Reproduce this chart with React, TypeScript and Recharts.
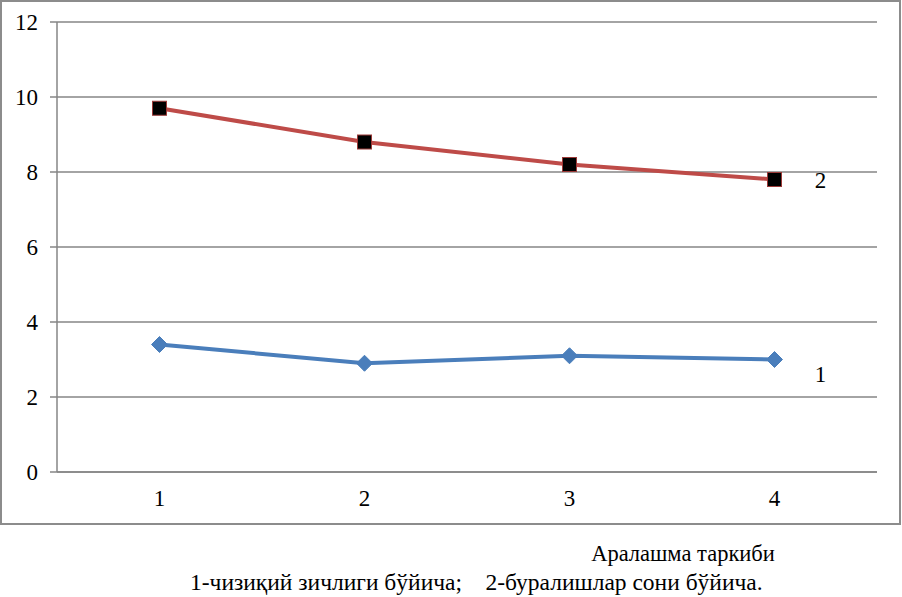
import { CartesianGrid, Line, LineChart, XAxis, YAxis } from 'recharts';

const categories = [1, 2, 3, 4];
const series1 = [3.4, 2.9, 3.1, 3.0];
const series2 = [9.7, 8.8, 8.2, 7.8];
const yTicks = [0, 2, 4, 6, 8, 10, 12];

const data = categories.map((c, i) => ({ cat: c, s1: series1[i], s2: series2[i] }));

const FONT = 'Liberation Serif';
const TICK_SIZE = 23;

const SquareDot = (props: any) => {
	const { cx, cy, index } = props;
	return (
		<rect
			key={`sq-${index}`}
			x={cx - 7}
			y={cy - 7}
			width={14}
			height={14}
			fill='#000'
			stroke='#9b3a38'
			strokeWidth={1}
		/>
	);
};

const DiamondDot = (props: any) => {
	const { cx, cy, index } = props;
	return (
		<path
			key={`dm-${index}`}
			d={`M${cx},${cy - 8} L${cx + 8},${cy} L${cx},${cy + 8} L${cx - 8},${cy} Z`}
			fill='#4a7ebb'
			stroke='#4a7ebb'
		/>
	);
};

const XTick = (props: any) => {
	const { x, y, payload } = props;
	return (
		<text x={x} y={y} dy='0.71em' textAnchor='middle' fill='#000' style={{ fontSize: TICK_SIZE, fontFamily: FONT }}>
			{payload.value}
		</text>
	);
};

const YTick = (props: any) => {
	const { x, y, payload } = props;
	return (
		<text x={x} y={y} dy='0.34em' textAnchor='end' fill='#000' style={{ fontSize: TICK_SIZE, fontFamily: FONT }}>
			{payload.value}
		</text>
	);
};

// series number written next to the last point
const endLabel = (text: string, dy: number) => (props: any) => {
	const { x, y, index } = props;
	if (index !== categories.length - 1) return <g key={`l-${index}`} />;
	return (
		<text
			key={`l-${index}`}
			x={x + 46}
			y={y + dy}
			style={{ fontSize: TICK_SIZE, fontFamily: FONT }}
			fill='#000'
			textAnchor='middle'
			dominantBaseline='central'>
			{text}
		</text>
	);
};

const App = () => {
	return (
		<div style={{ position: 'absolute', left: 0, top: 0, width: 902, height: 597, background: '#fff', fontFamily: FONT }}>
			<div
				style={{
					position: 'absolute',
					left: 0,
					top: 0,
					width: 901,
					height: 525,
					border: '2px solid #8c8c8c',
					boxSizing: 'border-box',
				}}
			/>
			<div style={{ position: 'absolute', left: 0, top: 0 }}>
				<LineChart
					width={900}
					height={524}
					data={data}
					margin={{ top: 22, right: 23, bottom: 12, left: 0 }}>
					<CartesianGrid
						horizontal
						vertical={false}
						stroke='#868686'
						strokeWidth={1.5}
					/>
					<XAxis
						dataKey='cat'
						type='number'
						domain={[0.5, 4.5]}
						ticks={categories}
						height={40}
						tickLine={false}
						tickSize={0}
						tickMargin={18}
						axisLine={{ stroke: '#868686', strokeWidth: 1.5 }}
						tick={XTick}
					/>
					<YAxis
						type='number'
						domain={[0, 12]}
						ticks={yTicks}
						width={57}
						tickSize={7}
						tickMargin={12}
						tickLine={{ stroke: '#868686', strokeWidth: 1.5 }}
						axisLine={{ stroke: '#868686', strokeWidth: 1.5 }}
						tick={YTick}
					/>
					<Line
						dataKey='s1'
						stroke='#4a7ebb'
						strokeWidth={4}
						dot={DiamondDot}
						activeDot={false}
						label={endLabel('1', 15)}
						isAnimationActive={false}
					/>
					<Line
						dataKey='s2'
						stroke='#be4b48'
						strokeWidth={4}
						dot={SquareDot}
						activeDot={false}
						label={endLabel('2', 1)}
						isAnimationActive={false}
					/>
				</LineChart>
			</div>
			<div
				style={{
					position: 'absolute',
					left: 683,
					top: 554,
					transform: 'translate(-50%, -50%)',
					fontFamily: FONT,
					fontSize: 22.5,
					whiteSpace: 'pre',
				}}>
				Аралашма таркиби
			</div>
			<div
				style={{
					position: 'absolute',
					left: 190,
					top: 582,
					transform: 'translateY(-50%)',
					fontFamily: FONT,
					fontSize: 23.5,
					whiteSpace: 'pre',
				}}>
				{'1-чизиқий зичлиги бўйича;    2-буралишлар сони бўйича.'}
			</div>
		</div>
	);
};

export default App;
